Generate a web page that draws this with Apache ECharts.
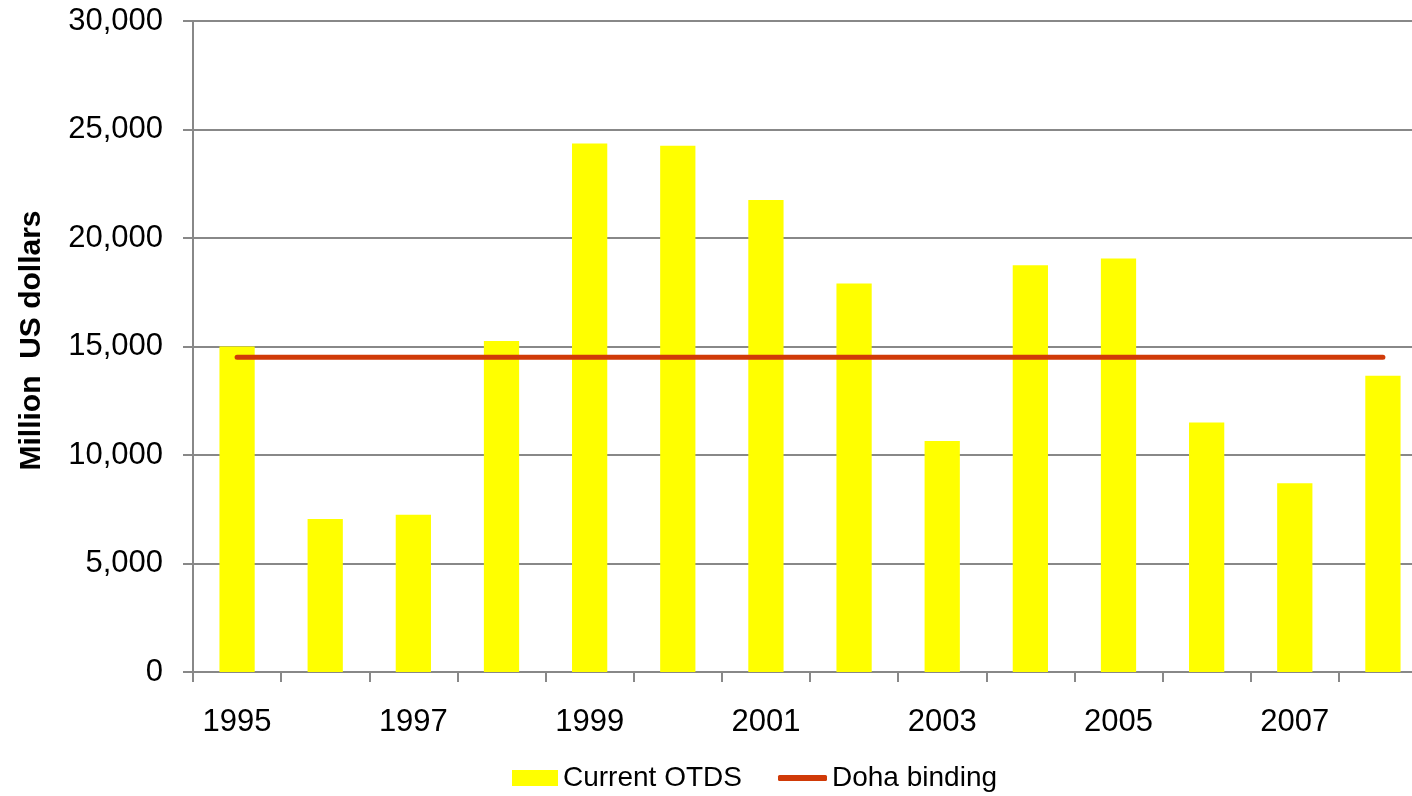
<!DOCTYPE html>
<html>
<head>
<meta charset="utf-8">
<script src="https://cdn.jsdelivr.net/npm/echarts@6/dist/echarts.min.js"></script>
<style>
  html, body { margin: 0; padding: 0; background: #fff; overflow: hidden; }
  /* wider than the window: the original is cropped on its right side */
  #chart { width: 1427px; height: 796px; }
</style>
</head>
<body>
<div id="chart"></div>
<script>
const years = ['1995', '1996', '1997', '1998', '1999', '2000', '2001',
  '2002', '2003', '2004', '2005', '2006', '2007', '2008'];
const currentOtds = [15000, 7050, 7250, 15250, 24350, 24250, 21750,
  17900, 10650, 18750, 19050, 11500, 8700, 13650];
const dohaBinding = [14500, 14500, 14500, 14500, 14500, 14500, 14500,
  14500, 14500, 14500, 14500, 14500, 14500, 14500];

const font = '"Liberation Sans", Arial, sans-serif';
const axisGray = '#888888';
const lineRed = '#D03A08';

const chart = echarts.init(document.getElementById('chart'));

chart.setOption({
  animation: false,
  textStyle: { fontFamily: font },
  grid: { left: 193, right: 0, top: 21, bottom: 124 },
  legend: [
    {
      left: 507,
      top: 759,
      itemWidth: 46,
      itemHeight: 16,
      textStyle: { fontSize: 28, color: '#000', fontFamily: font },
      data: [{ name: 'Current OTDS', icon: 'rect' }]
    },
    {
      left: 773,
      top: 759,
      itemWidth: 49,
      itemHeight: 6,
      icon: 'roundRect',
      textStyle: { fontSize: 28, color: '#000', fontFamily: font },
      data: ['Doha binding']
    }
  ],
  xAxis: {
    type: 'category',
    data: years,
    axisLine: { lineStyle: { color: axisGray, width: 2 } },
    axisTick: { show: true, interval: 0, length: 10, lineStyle: { color: axisGray, width: 2 } },
    axisLabel: { interval: 1, fontSize: 31, color: '#000', margin: 35, fontFamily: font }
  },
  yAxis: {
    type: 'value',
    min: 0,
    max: 30000,
    interval: 5000,
    name: 'Million  US dollars',
    nameLocation: 'middle',
    nameGap: 146,
    nameTextStyle: {
      fontSize: 30, fontWeight: 'bold', color: '#000', fontFamily: font,
      padding: [0, 0, 0, 12]
    },
    axisLine: { show: true, lineStyle: { color: axisGray, width: 2 } },
    axisTick: { show: true, length: 10, lineStyle: { color: axisGray, width: 2 } },
    splitLine: { lineStyle: { color: axisGray, width: 2 } },
    axisLabel: {
      fontSize: 31,
      color: '#000',
      margin: 30,
      fontFamily: font,
      formatter: v => v.toLocaleString('en-US')
    }
  },
  series: [
    {
      name: 'Current OTDS',
      type: 'bar',
      data: currentOtds,
      barWidth: '40%',
      itemStyle: { color: '#FFFF00' }
    },
    {
      name: 'Doha binding',
      type: 'line',
      data: dohaBinding,
      symbol: 'none',
      lineStyle: { color: lineRed, width: 5, cap: 'round' },
      itemStyle: { color: lineRed }
    }
  ]
});
</script>
</body>
</html>
